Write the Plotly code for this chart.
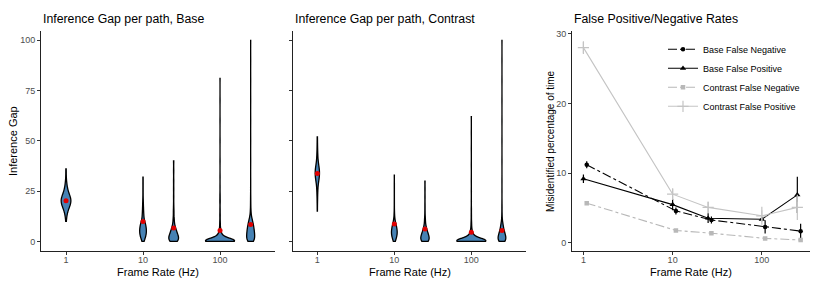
import numpy as np
import plotly.graph_objects as go

FONT = "Liberation Sans, Arial, sans-serif"

# ---------------- data ----------------
frame_rates = [1, 10, 25, 100, 250]
tick_vals_hz = [1, 10, 100]

# Inference gap distributions (value -> number of paths), estimated from the violin shapes
base_vals = {
    1: [10, 12, 14, 16, 18, 20, 22, 24, 26, 28, 30, 33, 36],
    10: [0, 1, 2, 3, 4, 5, 6, 7, 8, 9, 10, 12, 14, 16, 18, 20, 23, 26, 29, 32],
    25: [0, 1, 2, 3, 4, 5, 6, 7, 8, 10, 12, 15, 18, 22, 26, 30, 35, 40],
    100: [0, 1, 2, 3, 4, 5, 6, 8, 10, 13, 16, 20, 23, 27, 32, 40, 50, 60, 70, 81],
    250: [0, 1, 2, 3, 4, 5, 6, 7, 8, 9, 10, 11, 12, 14, 16, 19, 22, 26, 30, 40, 50, 60, 70, 80, 90, 100],
}
base_counts = {
    1: [1, 2, 4, 8, 14, 18, 15, 9, 5, 3, 2, 1, 1],
    10: [3, 5, 7, 9, 10, 10, 10, 9, 8, 7, 6, 5, 4, 3, 2, 2, 1, 1, 1, 1],
    25: [12, 12, 11, 10, 8, 6, 5, 4, 3, 3, 2, 2, 1, 1, 1, 1, 1, 1],
    100: [200, 60, 25, 12, 8, 6, 5, 4, 3, 3, 2, 3, 2, 1, 1, 1, 1, 1, 1, 1],
    250: [30, 30, 29, 28, 27, 26, 24, 22, 20, 17, 14, 11, 8, 6, 4, 3, 2, 1, 1, 1, 1, 1, 1, 1, 1, 1],
}
contrast_vals = {
    1: [15, 18, 21, 24, 27, 30, 32, 34, 36, 38, 41, 44, 47, 50, 52],
    10: [0, 1, 2, 3, 4, 5, 6, 7, 8, 9, 10, 12, 14, 17, 20, 24, 28, 33],
    25: [0, 1, 2, 3, 4, 5, 6, 7, 8, 10, 12, 15, 18, 22, 26, 30],
    100: [0, 1, 2, 3, 4, 5, 6, 8, 10, 13, 16, 20, 25, 30, 38, 46, 54, 62],
    250: [0, 1, 2, 3, 4, 5, 6, 7, 8, 9, 10, 12, 14, 17, 20, 25, 30, 40, 50, 60, 70, 80, 90, 100],
}
contrast_counts = {
    1: [1, 1, 2, 3, 5, 8, 11, 13, 11, 8, 5, 3, 2, 1, 1],
    10: [4, 7, 10, 12, 13, 13, 12, 10, 8, 6, 5, 3, 2, 1, 1, 1, 1, 1],
    25: [14, 14, 13, 11, 9, 7, 5, 4, 3, 3, 2, 1, 1, 1, 1, 1],
    100: [200, 60, 25, 12, 8, 6, 5, 4, 3, 2, 2, 1, 1, 1, 1, 1, 1, 1],
    250: [30, 30, 28, 25, 20, 16, 13, 10, 8, 6, 5, 3, 2, 2, 1, 1, 1, 1, 1, 1, 1, 1, 1, 1],
}
base_gap_mean = [20.2, 9.9, 6.7, 5.4, 8.4]
contrast_gap_mean = [33.7, 8.7, 6.2, 4.6, 5.4]

# False positive / negative rates (%)
base_fn = [11.2, 4.6, 3.3, 2.3, 1.7]
base_fn_err = [0.5, 0.5, 0.5, 0.95, 1.05]
base_fp = [9.2, 5.5, 3.55, 3.4, 6.9]
base_fp_err = [0.6, 0.8, 0.7, 0.3, 2.6]
con_fn = [5.7, 1.8, 1.4, 0.66, 0.43]
con_fn_err = [0.2, 0.15, 0.15, 0.15, 0.1]
con_fp = [28.0, 7.0, 5.1, 3.9, 5.1]
con_fp_err = [0.9, 0.8, 0.8, 1.3, 1.8]

# ---------------- styling ----------------
base_widths = [0.126, 0.087, 0.126, 0.377, 0.104]
contrast_widths = [0.056, 0.074, 0.108, 0.377, 0.10]
base_bw = [1.8, 1.6, 1.4, 1.2, 1.6]
contrast_bw = [2.2, 1.6, 1.4, 1.2, 1.4]
dodge = 0.037  # decades

# page body adds an 8px margin; the figure is sized to fit the 821x283 window
OFF = 8
W, H = 821 - OFF, 283 - OFF
def px(x):
    return (x - OFF) / W
def py(y):
    return 1 - (y - OFF) / H

fig = go.Figure()
log_pos = np.log10(frame_rates)

for panel, (vals, counts, means, widths, bws) in enumerate(
        [(base_vals, base_counts, base_gap_mean, base_widths, base_bw),
         (contrast_vals, contrast_counts, contrast_gap_mean, contrast_widths, contrast_bw)]):
    xa = "x" if panel == 0 else "x2"
    ya = "y" if panel == 0 else "y2"
    for i, r in enumerate(frame_rates):
        samples = np.repeat(vals[r], counts[r])
        fig.add_trace(go.Violin(
            x0=log_pos[i], y=samples, width=widths[i], bandwidth=bws[i],
            spanmode="hard", points=False, scalemode="width",
            fillcolor="#4682B4", line=dict(color="black", width=1.3),
            box_visible=False, meanline_visible=False, showlegend=False,
            hoverinfo="skip", xaxis=xa, yaxis=ya))
    fig.add_trace(go.Scatter(
        x=log_pos, y=means, mode="markers",
        marker=dict(color="#e00000", size=5), showlegend=False,
        hoverinfo="skip", xaxis=xa, yaxis=ya))

rates = np.array(frame_rates, dtype=float)
fn_x = rates * 10 ** dodge
series = [
    ("Base False Negative", fn_x, base_fn, base_fn_err, "black", "dashdot", "circle", 4.5, 0),
    ("Base False Positive", rates, base_fp, base_fp_err, "black", "solid", "triangle-up", 5.5, 0),
    ("Contrast False Negative", fn_x, con_fn, con_fn_err, "#b8b8b8", "dashdot", "square", 4.5, 0),
    ("Contrast False Positive", rates, con_fp, con_fp_err, "#c4c4c4", "solid", "cross-thin", 8, 1.2),
]
for name, xs, ys, es, col, dash, sym, sz, lw in series:
    fig.add_trace(go.Scatter(
        x=xs, y=ys, name=name, mode="lines+markers",
        line=dict(color=col, width=1.1, dash=dash),
        marker=dict(color=col, symbol=sym, size=sz, line=dict(color=col, width=lw)),
        error_y=dict(type="data", array=es, color=col, thickness=1.2, width=0),
        xaxis="x3", yaxis="y3"))

axis_common = dict(showline=True, linecolor="#222", linewidth=1, ticks="outside",
                   ticklen=3, tickcolor="#333", showgrid=False, zeroline=False,
                   tickfont=dict(family=FONT, size=9, color="#4d4d4d"))
xaxis_common = dict(axis_common, ticklabelstandoff=-3)
ydom = [py(251), py(29)]

fig.update_layout(
    width=W, height=H, margin=dict(l=0, r=0, t=0, b=0),
    plot_bgcolor="white", paper_bgcolor="white",
    violinmode="overlay",
    font=dict(family=FONT, color="black"),
    xaxis=dict(domain=[px(41), px(275)], range=[-0.325, 2.714],
               tickvals=list(np.log10(tick_vals_hz)), ticktext=[str(v) for v in tick_vals_hz],
               anchor="y", **xaxis_common),
    xaxis2=dict(domain=[px(293), px(526)], range=[-0.316, 2.71],
                tickvals=list(np.log10(tick_vals_hz)), ticktext=[str(v) for v in tick_vals_hz],
                anchor="y2", **xaxis_common),
    xaxis3=dict(domain=[px(572), px(810)], type="log", range=[-0.128, 2.54],
                tickvals=tick_vals_hz, ticktext=[str(v) for v in tick_vals_hz],
                anchor="y3", **xaxis_common),
    yaxis=dict(domain=ydom, range=[-4.9, 104.7], tickvals=[0, 25, 50, 75, 100],
               anchor="x", **axis_common),
    yaxis2=dict(domain=ydom, range=[-4.9, 104.7], tickvals=[0, 25, 50, 75, 100],
                showticklabels=False, anchor="x2", **axis_common),
    yaxis3=dict(domain=ydom, range=[-1.18, 30.4], tickvals=[0, 10, 20, 30],
                anchor="x3", **axis_common),
    legend=dict(x=px(663), y=py(33), xanchor="left", yanchor="top",
                bgcolor="rgba(0,0,0,0)", font=dict(family=FONT, size=9, color="black"),
                itemwidth=30, tracegroupgap=0),
)

annots = [
    dict(text="Inference Gap per path, Base", x=px(41), y=py(17), size=12.3, xanchor="left", angle=0),
    dict(text="Inference Gap per path, Contrast", x=px(293), y=py(17), size=12.3, xanchor="left", angle=0),
    dict(text="False Positive/Negative Rates", x=px(572), y=py(17), size=12.3, xanchor="left", angle=0),
    dict(text="Frame Rate (Hz)", x=px(158), y=py(272), size=11, xanchor="center", angle=0),
    dict(text="Frame Rate (Hz)", x=px(409.5), y=py(272), size=11, xanchor="center", angle=0),
    dict(text="Frame Rate (Hz)", x=px(691), y=py(272), size=11, xanchor="center", angle=0),
    dict(text="Inference Gap", x=px(13), y=py(140), size=11, xanchor="center", angle=-90),
    dict(text="Misidentified percentage of time", x=px(550), y=py(140), size=10, xanchor="center", angle=-90),
]
for a in annots:
    fig.add_annotation(text=a["text"], x=a["x"], y=a["y"], xref="paper", yref="paper",
                       xanchor=a["xanchor"], yanchor="middle", showarrow=False,
                       textangle=a["angle"], font=dict(family=FONT, size=a["size"], color="black"))

fig.write_html("out.html")
